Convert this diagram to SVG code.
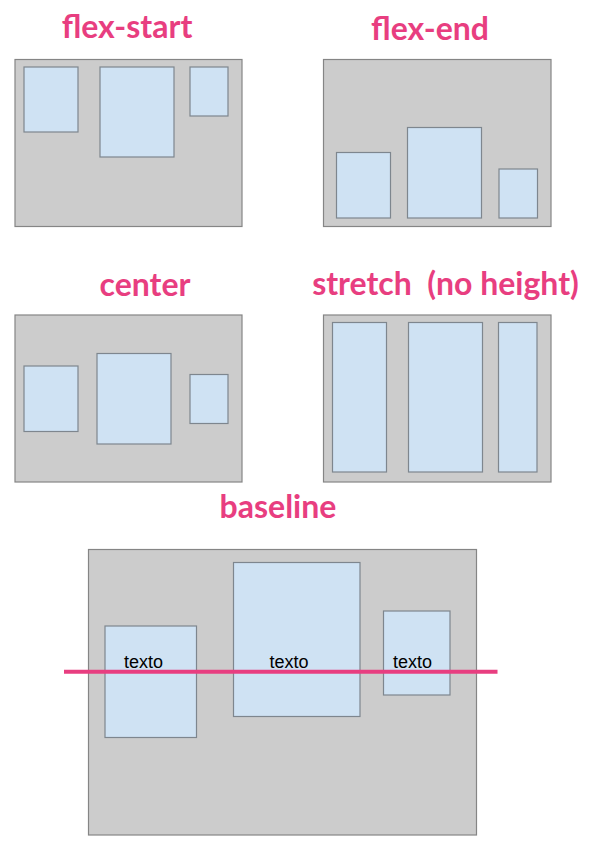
<svg xmlns="http://www.w3.org/2000/svg" width="605" height="867" viewBox="0 0 605 867">
<style>
.t{font-family:Lato,"Open Sans",sans-serif;font-weight:bold;font-size:32px;fill:#e83e80;text-anchor:middle}
.c{fill:#cccccc;stroke:#858585;stroke-width:1.2}
.b{fill:#cfe2f3;stroke:#7e868e;stroke-width:1.2}
.x{font-family:"Liberation Sans",Arial,sans-serif;font-size:18px;fill:#000}
</style>
<rect width="605" height="867" fill="#ffffff"/>
<g id="flex-start">
<text class="t" x="127" y="38">flex-start</text>
<rect class="c" x="15" y="59.5" width="227" height="167"/>
<rect class="b" x="24" y="67" width="54" height="65"/>
<rect class="b" x="100" y="67" width="74" height="90"/>
<rect class="b" x="190" y="67" width="38" height="49"/>
</g>
<g id="flex-end">
<text class="t" x="430" y="40">flex-end</text>
<rect class="c" x="323.5" y="59.5" width="227.5" height="167"/>
<rect class="b" x="336.5" y="152.5" width="54" height="65.5"/>
<rect class="b" x="407.5" y="127.5" width="74" height="90.5"/>
<rect class="b" x="499" y="169" width="38.5" height="49"/>
</g>
<g id="center">
<text class="t" x="145" y="296">center</text>
<rect class="c" x="15" y="315" width="227" height="167"/>
<rect class="b" x="24" y="366" width="54" height="65.5"/>
<rect class="b" x="97" y="353.5" width="74" height="90.5"/>
<rect class="b" x="190" y="374.5" width="38" height="49"/>
</g>
<g id="stretch">
<text class="t" x="445.5" y="295" xml:space="preserve">stretch  (no height)</text>
<rect class="c" x="323.5" y="315" width="227.5" height="167"/>
<rect class="b" x="332.5" y="322.5" width="54" height="149.5"/>
<rect class="b" x="408.5" y="322.5" width="74" height="149.5"/>
<rect class="b" x="498.5" y="322.5" width="38.5" height="149.5"/>
</g>
<g id="baseline">
<text class="t" x="278" y="518">baseline</text>
<rect class="c" x="88.5" y="549.5" width="388" height="285.5"/>
<rect class="b" x="105" y="626" width="91.5" height="111.5"/>
<rect class="b" x="233.5" y="562.5" width="126.5" height="154"/>
<rect class="b" x="383.5" y="611" width="66.5" height="84"/>
<text class="x" x="124" y="668">texto</text>
<text class="x" x="269.5" y="668">texto</text>
<text class="x" x="393" y="668">texto</text>
</g>
<g id="connectors">
<line x1="64" y1="671.7" x2="497.5" y2="671.7" stroke="#e83e80" stroke-width="4"/>
</g>
</svg>
